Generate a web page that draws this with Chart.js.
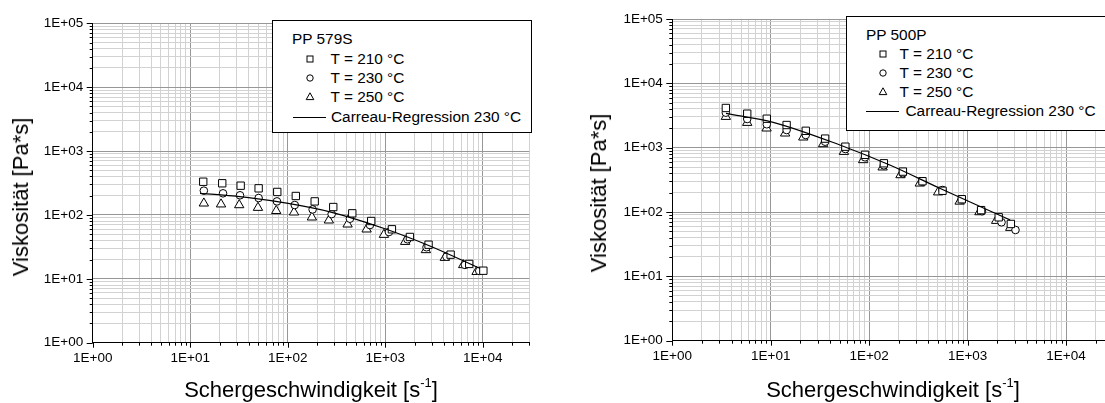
<!DOCTYPE html>
<html><head><meta charset="utf-8">
<script src="https://cdn.jsdelivr.net/npm/chart.js@4/dist/chart.umd.min.js"></script>
<style>
html,body{margin:0;padding:0;width:1105px;height:403px;overflow:hidden;background:#fff;}
body{position:relative;font-family:"Liberation Sans",Arial,sans-serif;color:#000;}
canvas{position:absolute;top:0;display:block;}
.t{position:absolute;white-space:nowrap;color:#000;}
.ax{font-size:22px;line-height:22px;}
.lg{position:absolute;border:1px solid #000;background:#fff;box-sizing:border-box;z-index:2;}
.lg .t{font-size:15.4px;line-height:18px;}
.lg svg{position:absolute;overflow:visible;}
sup{font-size:13px;line-height:0;position:relative;top:-1px;}
</style>
</head><body>
<canvas id="c1" width="555" height="403" style="left:0"></canvas>
<canvas id="c2" width="580" height="403" style="left:555px"></canvas>

<div class="t ax" style="left:311px;top:378.5px;transform:translateX(-50%);">Schergeschwindigkeit [s<sup>-1</sup>]</div>
<div class="t ax" style="left:893px;top:378.5px;transform:translateX(-50%);">Schergeschwindigkeit [s<sup>-1</sup>]</div>
<div class="t ax" style="left:21px;top:197px;transform:translate(-50%,-50%) rotate(-90deg);">Viskosität [Pa*s]</div>
<div class="t ax" style="left:599px;top:193px;transform:translate(-50%,-50%) rotate(-90deg);">Viskosität [Pa*s]</div>

<div class="lg" id="lg1" style="left:272px;top:20px;width:260px;height:113px;"></div>
<div class="lg" id="lg2" style="left:845.5px;top:15.5px;width:300px;height:115px;"></div>

<script>
// ---------- data: PP 579S ----------
const shear579_210 = [13.6, 21.3, 32.9, 50.3, 78.1, 121, 189, 293, 459, 718, 1170, 1790, 2780, 4680, 7260, 10140];
const visc579_210  = [331, 313, 287, 261, 229, 198, 163, 133, 106, 80.4, 59.6, 45.2, 34.2, 23.9, 17.1, 13.4];
const shear579_230 = [13.8, 21.7, 32.4, 50.3, 77.5, 118, 180, 282, 434, 697, 1090, 1690, 2650, 4250, 6560, 9200];
const visc579_230  = [240, 218, 203, 184, 163, 143, 122, 103, 87.3, 69.5, 54, 41.6, 31.2, 22.2, 16.5, 13.3];
const shear579_250 = [13.8, 20.7, 31.8, 49.5, 76.2, 116, 177, 264, 411, 644, 969, 1600, 2610, 4080, 6300, 8640];
const visc579_250  = [152, 147, 143, 130, 116, 110, 91.8, 82.4, 71.3, 59.6, 49.1, 38.1, 28.3, 21.4, 16.5, 12.9];
const shear579_fit = [12.6, 20.3, 37.9, 101, 271, 1009, 2870, 9340];
const visc579_fit  = [218, 207, 189, 152, 112, 60.3, 32.7, 14.6];

// ---------- data: PP 500P ----------
const shear500_210 = [3.50, 5.77, 9.12, 14.5, 22.7, 35.7, 57.3, 90.8, 141, 220, 348, 556, 873, 1371, 2070, 2750];
const visc500_210  = [4140, 3375, 2820, 2250, 1830, 1383, 1036, 775, 572, 425, 301, 214, 158, 107, 82.8, 65.2];
const shear500_230 = [3.50, 5.77, 9.12, 14.5, 22.7, 35.7, 57.3, 90.8, 141, 220, 348, 556, 873, 1400, 2210, 3065];
const visc500_230  = [3497, 2790, 2310, 1882, 1575, 1238, 953, 708, 532, 400, 296, 220, 157, 103, 69.2, 52.6];
const shear500_250 = [3.50, 5.77, 9.08, 14.0, 21.4, 34.1, 55.4, 86.9, 137, 208, 327, 502, 830, 1318, 1950, 2710];
const visc500_250  = [3030, 2445, 2000, 1672, 1449, 1141, 866, 644, 496, 376, 279, 203, 146, 100, 73.3, 57.1];
const shear500_fit = [3.51, 10.6, 50.4, 162, 521, 2710];
const visc500_fit  = [3420, 2480, 1101, 538, 234, 75.2];

// ---------- axes / labels ----------
const xRange = [1, 30000];
const yRange = [1, 100000];
const logMultipliers = [1, 2, 3, 4, 5, 6, 7, 8, 9];
const seriesLabels = ['T = 210 °C', 'T = 230 °C', 'T = 250 °C', 'Carreau-Regression 230 °C'];
const legendTitles = ['PP 579S', 'PP 500P'];
const xTitle = 'Schergeschwindigkeit [s-1]';
const yTitle = 'Viskosität [Pa*s]';

const FONT = '"Liberation Sans", Arial, sans-serif';

function isDecade(v) {
  const l = Math.log10(v);
  return Math.abs(l - Math.round(l)) < 1e-9;
}
function decadeLabel(v) {
  if (!isDecade(v)) return '';
  const e = Math.round(Math.log10(v));
  return '1E' + (e < 0 ? '-' : '+') + String(Math.abs(e)).padStart(2, '0');
}
function buildLogTicks(scale) {
  const out = [];
  const min = scale.min, max = scale.max;
  for (let e = Math.floor(Math.log10(min)); Math.pow(10, e) <= max * 1.0000001; e++) {
    for (const m of logMultipliers) {
      const v = m * Math.pow(10, e);
      if (v >= min * 0.9999999 && v <= max * 1.0000001) out.push({ value: v, major: m === 1 });
    }
  }
  scale.ticks = out;
}
function zip(xs, ys) { return xs.map((x, i) => ({ x: x, y: ys[i] })); }
const gridColor = ctx => (ctx.tick && isDecade(ctx.tick.value)) ? '#979797' : '#d2d2d2';

const tickMarks = {
  id: 'tickMarks',
  afterDraw(chart) {
    const ctx = chart.ctx, xs = chart.scales.x, ys = chart.scales.y;
    ctx.save();
    ctx.strokeStyle = '#000';
    ctx.lineWidth = 1;
    ctx.beginPath();
    xs.ticks.forEach(t => {
      const p = Math.round(xs.getPixelForValue(t.value)) + 0.5;
      const len = isDecade(t.value) ? 5 : 3;
      ctx.moveTo(p, ys.bottom);
      ctx.lineTo(p, ys.bottom + len);
    });
    ys.ticks.forEach(t => {
      const p = Math.round(ys.getPixelForValue(t.value)) + 0.5;
      const len = isDecade(t.value) ? 6 : 3;
      ctx.moveTo(xs.left, p);
      ctx.lineTo(xs.left - len, p);
    });
    ctx.stroke();
    ctx.restore();
  }
};

function makeChart(id, d, geo) {
  const pts = (xs, ys, style, r) => ({
    data: zip(xs, ys), showLine: false, pointStyle: style, pointRadius: r,
    pointBackgroundColor: '#fff', pointBorderColor: '#000', pointBorderWidth: 1
  });
  return new Chart(document.getElementById(id), {
    type: 'scatter',
    data: {
      datasets: [
        { label: seriesLabels[3], data: zip(d.fx, d.fy), showLine: true, pointRadius: 0,
          borderColor: '#000', borderWidth: 1.2, cubicInterpolationMode: 'monotone', fill: false },
        Object.assign({ label: seriesLabels[0] }, pts(d.x1, d.y1, 'rect', 5.2)),
        Object.assign({ label: seriesLabels[1] }, pts(d.x2, d.y2, 'circle', 3.8)),
        Object.assign({ label: seriesLabels[2] }, pts(d.x3, d.y3, 'triangle', 5.4))
      ]
    },
    options: {
      responsive: false,
      animation: false,
      devicePixelRatio: 1,
      layout: { padding: { left: 0, top: geo.top, right: geo.right, bottom: 0 } },
      plugins: { legend: { display: false }, tooltip: { enabled: false } },
      scales: {
        x: {
          type: 'logarithmic', position: 'bottom', min: xRange[0], max: xRange[1],
          afterBuildTicks: buildLogTicks,
          afterFit: s => { s.height = geo.xh; },
          grid: { color: gridColor, lineWidth: 1, drawTicks: false },
          border: { color: '#000', width: 1 },
          ticks: { autoSkip: false, maxRotation: 0, minRotation: 0, padding: 7.5, color: '#000',
                   font: { family: FONT, size: 13.5 }, callback: v => decadeLabel(v) }
        },
        y: {
          type: 'logarithmic', position: 'left', min: yRange[0], max: yRange[1],
          afterBuildTicks: buildLogTicks,
          afterFit: s => { s.width = geo.yw; },
          grid: { color: gridColor, lineWidth: 1, drawTicks: false },
          border: { color: '#000', width: 1 },
          ticks: { autoSkip: false, padding: 9.5, color: '#000',
                   font: { family: FONT, size: 13.5 }, callback: v => decadeLabel(v) }
        }
      }
    },
    plugins: [tickMarks]
  });
}

makeChart('c1', {
  x1: shear579_210, y1: visc579_210, x2: shear579_230, y2: visc579_230,
  x3: shear579_250, y3: visc579_250, fx: shear579_fit, fy: visc579_fit
}, { top: 23.3, right: 25.7, xh: 60.3, yw: 92.7 });

makeChart('c2', {
  x1: shear500_210, y1: visc500_210, x2: shear500_230, y2: visc500_230,
  x3: shear500_250, y3: visc500_250, fx: shear500_fit, fy: visc500_fit
}, { top: 19, right: 22, xh: 62.3, yw: 117.3 });

// ---------- legends ----------
function markerSvg(kind, cx, cy) {
  let shape = '';
  if (kind === 'rect') shape = '<rect x="-3" y="-3" width="6" height="6" fill="#fff" stroke="#000" stroke-width="1"/>';
  else if (kind === 'circle') shape = '<circle cx="0" cy="0" r="3.2" fill="#fff" stroke="#000" stroke-width="1"/>';
  else if (kind === 'triangle') shape = '<polygon points="0,-4.2 3.8,2.6 -3.8,2.6" fill="#fff" stroke="#000" stroke-width="1"/>';
  else shape = '<line x1="' + kind[0] + '" y1="0" x2="' + kind[1] + '" y2="0" stroke="#000" stroke-width="1" shape-rendering="crispEdges"/>';
  return '<svg width="1" height="1" style="left:' + cx + 'px;top:' + cy + 'px"><g>' + shape + '</g></svg>';
}
function buildLegend(id, title, g) {
  const el = document.getElementById(id);
  let html = '<div class="t" style="left:' + g.titleX + 'px;top:' + (g.rows[0] - 9) + 'px">' + title + '</div>';
  const kinds = ['rect', 'circle', 'triangle'];
  for (let i = 0; i < 3; i++) {
    html += markerSvg(kinds[i], g.markX, g.rows[i + 1]);
    html += '<div class="t" style="left:' + g.textX + 'px;top:' + (g.rows[i + 1] - 9) + 'px">' + seriesLabels[i] + '</div>';
  }
  html += markerSvg([g.lineX0 - g.markX, g.lineX1 - g.markX], g.markX, g.rows[4]);
  html += '<div class="t" style="left:' + g.fitTextX + 'px;top:' + (g.rows[4] - 9) + 'px">' + seriesLabels[3] + '</div>';
  el.innerHTML = html;
}
buildLegend('lg1', legendTitles[0], { titleX: 19, markX: 36.5, textX: 57.5, lineX0: 19, lineX1: 52.5, fitTextX: 58,
  rows: [17.5, 37.5, 57, 76, 95.5] });
buildLegend('lg2', legendTitles[1], { titleX: 19.5, markX: 36.5, textX: 53, lineX0: 19.5, lineX1: 52, fitTextX: 59,
  rows: [18.5, 37, 56.5, 75.5, 94.5] });
</script>
</body></html>
